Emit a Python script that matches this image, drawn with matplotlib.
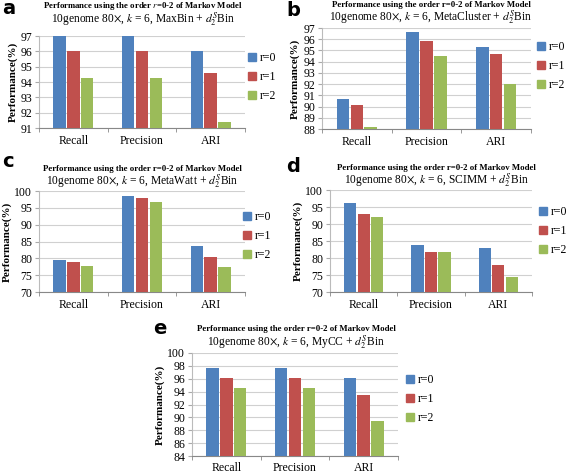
import matplotlib
matplotlib.use("Agg")
import matplotlib.pyplot as plt
import numpy as np
from matplotlib.patches import Patch

W, H = 567, 473
categories = ["Recall", "Precision", "ARI"]
series_names = ["r=0", "r=1", "r=2"]
colors = ["#4F81BD", "#C0504D", "#9BBB59"]

a_vals = [[97.0, 97.0, 96.05], [96.0, 96.0, 94.6], [94.25, 94.25, 91.4]]
b_vals = [[90.7, 96.6, 95.3], [90.1, 95.85, 94.7], [88.2, 94.5, 92.0]]
c_vals = [[79.4, 98.5, 83.6], [78.9, 97.8, 80.5], [77.8, 96.7, 77.4]]
d_vals = [[96.1, 83.7, 83.0], [92.8, 81.9, 77.8], [92.2, 81.9, 74.5]]
e_vals = [[97.7, 97.7, 96.1], [96.1, 96.1, 93.4], [94.6, 94.6, 89.5]]

methods = ["MaxBin", "MetaCluster", "MetaWatt", "SCIMM", "MyCC"]
letters = ["a", "b", "c", "d", "e"]
ylims = [(91, 97, 1), (88, 97, 1), (70, 100, 5), (70, 100, 5), (84, 100, 2)]

plt.rcParams['font.family'] = ['Liberation Serif', 'DejaVu Serif']
plt.rcParams['mathtext.fontset'] = 'stix'

fig = plt.figure(figsize=(W / 100, H / 100), dpi=100)

# panel axes boxes in pixels: x0, y0(top), x1, y1(bottom)
boxes = [(39, 36, 245, 128), (322, 28, 531, 129), (39, 191, 245, 292),
         (330, 190, 532, 292), (192, 353, 398, 456)]
letter_pos = [(2, 9), (286, 10), (2, 161), (286, 167), (153, 328)]
legend_pos = [(248, 77), (537, 66), (243, 236), (539, 231), (406, 399)]
title_y = [6, 5, 169, 168, 329]
sub_y = [20, 18, 182, 181, 343]
title_x = [143, 431, 142, 436, 296]

def add_ax(b):
    x0, y0, x1, y1 = b
    return fig.add_axes([x0 / W, 1 - y1 / H, (x1 - x0) / W, (y1 - y0) / H])

allvals = [a_vals, b_vals, c_vals, d_vals, e_vals]
x = np.arange(len(categories))
bw = 0.18
gap = 0.02
for i in range(5):
    ax = add_ax(boxes[i])
    vals = allvals[i]
    lo, hi, step = ylims[i]
    for s in range(3):
        ax.bar(x + (s - 1) * (bw + gap), vals[s], width=bw, color=colors[s],
               zorder=3, label=series_names[s])
    ax.set_ylim(lo, hi)
    ax.set_xlim(-0.5, 2.5)
    ax.set_yticks(np.arange(lo, hi + 0.001, step))
    ax.set_xticks(x)
    ax.set_xticklabels(categories)
    ax.set_xticks([-0.5, 0.5, 1.5, 2.5], minor=True)
    ax.tick_params(axis='x', which='major', length=0, pad=4 if i == 4 else 5,
                   labelsize=8.5)
    ax.tick_params(axis='x', which='minor', length=3, color='#888888')
    ax.tick_params(axis='y', length=3, color='#aaaaaa', labelsize=8.5, pad=2)
    ax.yaxis.grid(True, color='#d0d0d0', linewidth=0.8, zorder=0)
    for sp in ['top', 'right']:
        ax.spines[sp].set_visible(False)
    ax.spines['left'].set_color('#bbbbbb')
    ax.spines['bottom'].set_color('#888888')
    ax.set_ylabel("Performance(%)", fontweight='bold', fontsize=8, labelpad=2)
    title = ("Performance using the order $r$=0-2 of Markov Model" if i == 0
             else "Performance using the order r=0-2 of Markov Model")
    fig.text(title_x[i] / W, 1 - title_y[i] / H, title,
             ha='center', va='center', fontsize=6.3, fontweight='bold')
    fig.text(title_x[i] / W, 1 - sub_y[i] / H,
             r"10genome 80$\times$, $k$ = 6, " + methods[i] + r" + $d_2^S$Bin",
             ha='center', va='center', fontsize=8.3)
    lx, ly = letter_pos[i]
    fig.text(lx / W, 1 - ly / H, letters[i], fontsize=14, fontweight='bold',
             family='DejaVu Sans', ha='left', va='center')
    handles = [Patch(color=colors[s], label=series_names[s]) for s in range(3)]
    lpx, lpy = legend_pos[i]
    fig.legend(handles=handles, loc='center left',
               bbox_to_anchor=(lpx / W, 1 - lpy / H), frameon=False,
               fontsize=8.5, handlelength=0.7, handleheight=0.7,
               handletextpad=0.3, labelspacing=0.6, borderaxespad=0, borderpad=0)

fig.savefig("out.png", dpi=100)
